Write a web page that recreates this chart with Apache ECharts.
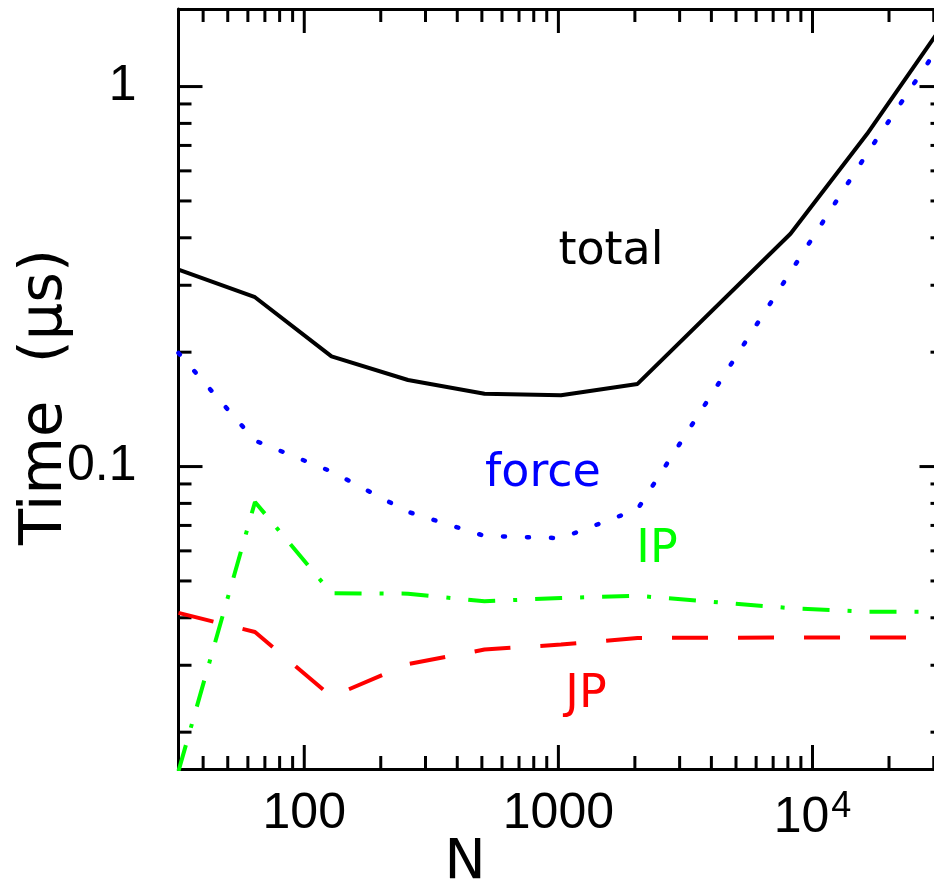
<!DOCTYPE html>
<html>
<head>
<meta charset="utf-8">
<script src="https://cdn.jsdelivr.net/npm/echarts@6/dist/echarts.min.js"></script>
<style>
  html, body { margin: 0; padding: 0; background: #fff; }
  #main { width: 934px; height: 885px; }
</style>
</head>
<body>
<div id="main"></div>
<script>
// 数据：N 与各部分耗时 (μs)
var nValues   = [32, 64, 128, 256, 512, 1024, 2048, 8192, 16384, 32768];
var totalData = [0.330, 0.279, 0.195, 0.169, 0.1555, 0.154, 0.165, 0.410, 0.750, 1.46];
var forceData = [0.199, 0.117, 0.097, 0.076, 0.0657, 0.0648, 0.0772, 0.325, 0.666, 1.33];
var ipData    = [0.0158, 0.0807, 0.0464, 0.0463, 0.0442, 0.0451, 0.0457, 0.0424, 0.0415, 0.0415];
var jpData    = [0.0412, 0.0367, 0.0248, 0.0302, 0.0330, 0.0340, 0.0354, 0.0355, 0.0355, 0.0355];

// 坐标轴范围与刻度
var xMin = 32, xMax = 32768;
var yMin = 0.016, yMax = 1.6;
var xMajorTicks = [100, 1000, 10000];
var xMajorLabels = ['100', '1000', '{b|10}{s|4}'];
var xMinorTicks = [40, 50, 60, 70, 80, 90, 200, 300, 400, 500, 600, 700, 800, 900,
                   2000, 3000, 4000, 5000, 6000, 7000, 8000, 9000, 20000, 30000];
var yMajorTicks = [0.1, 1];
var yMajorLabels = ['0.1', '1'];
var yMinorTicks = [0.02, 0.03, 0.04, 0.05, 0.06, 0.07, 0.08, 0.09,
                   0.2, 0.3, 0.4, 0.5, 0.6, 0.7, 0.8, 0.9];

var MAJOR_LEN = 24, MINOR_LEN = 13;
var labelFont = 'Liberation Sans';
var textFont = 'DejaVu Sans';

function findLabel(ticks, labels, v) {
  for (var i = 0; i < ticks.length; i++) {
    if (Math.abs(v / ticks[i] - 1) < 1e-6) return labels[i];
  }
  return '';
}

function zip(xs, ys) {
  return xs.map(function (x, i) { return [x, ys[i]]; });
}

// 刻度线（四边都画，主刻度长、次刻度短）
function renderXTick(params, api) {
  var cs = params.coordSys;
  var v = api.value(0);
  var px = api.coord([v, 1])[0];
  var len = xMajorTicks.indexOf(v) >= 0 ? MAJOR_LEN : MINOR_LEN;
  var bottom = cs.y + cs.height, top = cs.y;
  var st = { stroke: '#000', lineWidth: 3 };
  return {
    type: 'group',
    children: [
      { type: 'line', shape: { x1: px, y1: bottom, x2: px, y2: bottom - len }, style: st },
      { type: 'line', shape: { x1: px, y1: top, x2: px, y2: top + len }, style: st }
    ]
  };
}
function renderYTick(params, api) {
  var cs = params.coordSys;
  var v = api.value(1);
  var py = api.coord([100, v])[1];
  var len = yMajorTicks.indexOf(v) >= 0 ? MAJOR_LEN : MINOR_LEN;
  var left = cs.x, right = cs.x + cs.width;
  var st = { stroke: '#000', lineWidth: 3 };
  return {
    type: 'group',
    children: [
      { type: 'line', shape: { x1: left, y1: py, x2: left + len, y2: py }, style: st },
      { type: 'line', shape: { x1: right, y1: py, x2: right - len, y2: py }, style: st }
    ]
  };
}

var axisLineStyle = { show: true, onZero: false, lineStyle: { color: '#000', width: 3 } };

var myChart = echarts.init(document.getElementById('main'), null, { renderer: 'canvas' });
var option = {
  animation: false,
  backgroundColor: '#fff',
  grid: { left: 178.5, top: 9, width: 765, height: 760, containLabel: false, outerBoundsMode: 'none' },
  xAxis: [
    {
      type: 'log', logBase: 10, min: xMin, max: xMax, position: 'bottom',
      axisLine: axisLineStyle, axisTick: { show: false }, splitLine: { show: false },
      axisLabel: {
        color: '#000', fontFamily: labelFont, fontSize: 50, margin: 20,
        formatter: function (v) { return findLabel(xMajorTicks, xMajorLabels, v); },
        rich: {
          b: { fontFamily: labelFont, fontSize: 50, color: '#000' },
          s: { fontFamily: labelFont, fontSize: 36, color: '#000', verticalAlign: 'top', padding: [0, 0, 22, 2] }
        }
      }
    },
    {
      type: 'log', logBase: 10, min: xMin, max: xMax, position: 'top',
      axisLine: axisLineStyle, axisTick: { show: false }, splitLine: { show: false },
      axisLabel: { show: false }
    }
  ],
  yAxis: [
    {
      type: 'log', logBase: 10, min: yMin, max: yMax, position: 'left',
      axisLine: axisLineStyle, axisTick: { show: false }, splitLine: { show: false },
      axisLabel: {
        color: '#000', fontFamily: labelFont, fontSize: 50, margin: 42,
        formatter: function (v) { return findLabel(yMajorTicks, yMajorLabels, v); }
      }
    },
    {
      type: 'log', logBase: 10, min: yMin, max: yMax, position: 'right',
      axisLine: axisLineStyle, axisTick: { show: false }, splitLine: { show: false },
      axisLabel: { show: false }
    }
  ],
  series: [
    {
      name: 'xticks', type: 'custom', renderItem: renderXTick, silent: true,
      data: xMinorTicks.concat(xMajorTicks).map(function (v) { return [v, 1]; })
    },
    {
      name: 'yticks', type: 'custom', renderItem: renderYTick, silent: true,
      data: yMinorTicks.concat(yMajorTicks).map(function (v) { return [100, v]; })
    },
    {
      name: 'total', type: 'line', data: zip(nValues, totalData), showSymbol: false,
      lineStyle: { color: '#000', width: 4 }
    },
    {
      name: 'force', type: 'line', data: zip(nValues, forceData), showSymbol: false,
      lineStyle: { color: '#0000ff', width: 4.5, type: [2, 22], cap: 'round' }
    },
    {
      name: 'IP', type: 'line', data: zip(nValues, ipData), showSymbol: false,
      lineStyle: { color: '#00ff00', width: 4, type: [27, 18, 4, 18] }
    },
    {
      name: 'JP', type: 'line', data: zip(nValues, jpData), showSymbol: false,
      lineStyle: { color: '#ff0000', width: 4, type: [36, 30] }
    }
  ],
  graphic: [
    { type: 'text', x: 611, y: 252, style: { text: 'total', fill: '#000', font: '46px "' + textFont + '"', textAlign: 'center', textVerticalAlign: 'middle' } },
    { type: 'text', x: 543, y: 474, style: { text: 'force', fill: '#0000ff', font: '46px "' + textFont + '"', textAlign: 'center', textVerticalAlign: 'middle' } },
    { type: 'text', x: 657, y: 550, style: { text: 'IP', fill: '#00ff00', font: '46px "' + textFont + '"', textAlign: 'center', textVerticalAlign: 'middle' } },
    { type: 'text', x: 586, y: 695, style: { text: 'JP', fill: '#ff0000', font: '46px "' + textFont + '"', textAlign: 'center', textVerticalAlign: 'middle' } },
    { type: 'text', x: 465, y: 864, style: { text: 'N', fill: '#000', font: '55px "' + textFont + '"', textAlign: 'center', textVerticalAlign: 'middle' } },
    { type: 'text', x: 46, y: 397, rotation: Math.PI / 2, style: { text: 'Time  (μs)', fill: '#000', font: '59px "' + textFont + '"', textAlign: 'center', textVerticalAlign: 'middle' } }
  ]
};
myChart.setOption(option);
</script>
</body>
</html>
